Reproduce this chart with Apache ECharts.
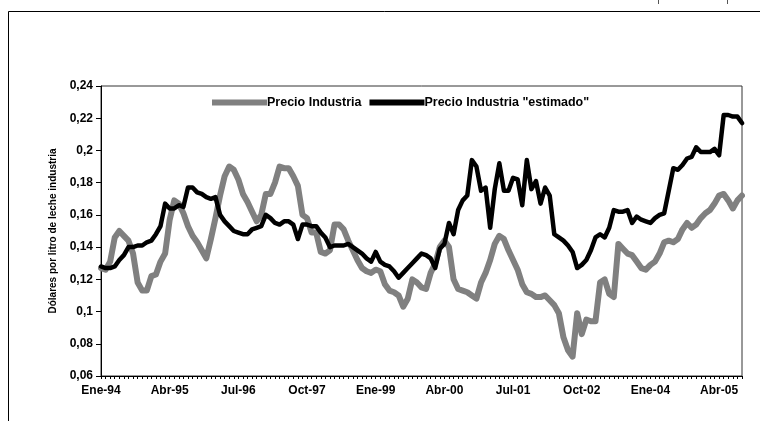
<!DOCTYPE html>
<html>
<head>
<meta charset="utf-8">
<title>Precio Industria</title>
<script src="https://cdn.jsdelivr.net/npm/echarts@6/dist/echarts.min.js"></script>
<style>
  html, body { margin: 0; padding: 0; background: #fff; }
  #main { width: 760px; height: 421px; }
</style>
</head>
<body>
<div id="main"></div>
<script>
// meses y años del eje x (Ene-94 ... Sep-05)
var meses = ['Ene','Feb','Mar','Abr','May','Jun','Jul','Ago','Sep','Oct','Nov','Dic'];
var anios = ['94','95','96','97','98','99','00','01','02','03','04','05'];

// Precio Industria (dólares por litro), mensual
var precioIndustria = [
  0.127,0.126,0.131,0.146,0.150,0.147,0.144,0.136,0.118,0.113,0.113,0.122,
  0.123,0.131,0.136,0.157,0.169,0.167,0.161,0.153,0.147,0.143,0.138,0.133,
  0.145,0.158,0.172,0.184,0.190,0.188,0.182,0.173,0.168,0.162,0.156,0.160,
  0.173,0.173,0.180,0.190,0.189,0.189,0.184,0.178,0.160,0.158,0.149,0.149,
  0.137,0.136,0.138,0.154,0.154,0.151,0.144,0.138,0.132,0.127,0.125,0.124,
  0.126,0.125,0.117,0.113,0.112,0.110,0.103,0.108,0.120,0.118,0.115,0.114,
  0.124,0.130,0.140,0.144,0.140,0.120,0.114,0.113,0.112,0.110,0.108,0.118,
  0.124,0.132,0.142,0.147,0.145,0.138,0.132,0.126,0.117,0.112,0.111,0.109,
  0.109,0.110,0.107,0.104,0.099,0.084,0.076,0.072,0.099,0.086,0.095,0.094,
  0.094,0.118,0.120,0.111,0.109,0.142,0.139,0.136,0.135,0.131,0.127,0.126,
  0.129,0.131,0.136,0.143,0.144,0.143,0.145,0.151,0.155,0.152,0.154,0.158,
  0.161,0.163,0.167,0.172,0.173,0.169,0.164,0.169,0.172
];

// Precio Industria "estimado"
var precioEstimado = [
  0.128,0.127,0.127,0.128,0.132,0.135,0.140,0.140,0.141,0.141,0.143,0.144,
  0.148,0.153,0.167,0.164,0.164,0.166,0.165,0.177,0.177,0.174,0.173,0.171,
  0.170,0.171,0.160,0.156,0.153,0.150,0.149,0.148,0.148,0.151,0.152,0.153,
  0.160,0.158,0.155,0.154,0.156,0.156,0.154,0.145,0.154,0.154,0.153,0.153,
  0.149,0.146,0.140,0.141,0.141,0.141,0.142,0.140,0.138,0.136,0.133,0.131,
  0.137,0.131,0.129,0.128,0.125,0.121,0.124,0.127,0.130,0.133,0.136,0.135,
  0.133,0.127,0.139,0.142,0.155,0.148,0.163,0.169,0.172,0.194,0.190,0.175,
  0.177,0.152,0.176,0.192,0.175,0.175,0.183,0.182,0.166,0.194,0.176,0.181,
  0.167,0.177,0.172,0.148,0.146,0.144,0.141,0.137,0.127,0.129,0.132,0.138,
  0.146,0.148,0.146,0.152,0.163,0.162,0.162,0.163,0.155,0.159,0.157,0.156,
  0.155,0.158,0.160,0.161,0.175,0.189,0.188,0.191,0.195,0.196,0.202,0.199,
  0.199,0.199,0.201,0.197,0.222,0.222,0.221,0.221,0.217
];

var categorias = [];
for (var i = 0; i < precioIndustria.length; i++) {
  categorias.push(meses[i % 12] + '-' + anios[Math.floor(i / 12)]);
}

var fuente = "'Liberation Sans', Arial, sans-serif";
var myChart = echarts.init(document.getElementById('main'));

var option = {
  animation: false,
  backgroundColor: '#fff',
  textStyle: { fontFamily: fuente },
  graphic: [
    // marco exterior
    { type: 'rect', silent: true, shape: { x: 8.5, y: 11.5, width: 800, height: 500 },
      style: { fill: 'none', stroke: '#000', lineWidth: 1 } },
    { type: 'line', silent: true, shape: { x1: 658.5, y1: 0, x2: 658.5, y2: 4 },
      style: { stroke: '#555', lineWidth: 1 } },
    { type: 'line', silent: true, shape: { x1: 727.5, y1: 0, x2: 727.5, y2: 4 },
      style: { stroke: '#555', lineWidth: 1 } }
  ],
  legend: {
    left: 207,
    top: 91,
    icon: 'rect',
    itemWidth: 55,
    itemHeight: 6,
    itemGap: 8,
    data: ['Precio Industria', 'Precio Industria "estimado"'],
    textStyle: { fontFamily: fuente, fontSize: 12.5, fontWeight: 'bold', color: '#000', padding: [0, 0, 0, -5] }
  },
  grid: {
    left: 101, right: 18, top: 86, bottom: 45,
    show: true, borderColor: '#333', borderWidth: 1
  },
  xAxis: {
    type: 'category',
    data: categorias,
    boundaryGap: false,
    axisLine: { lineStyle: { color: '#000', width: 1 } },
    axisTick: { show: true, interval: 0, length: 3, lineStyle: { color: '#000' } },
    axisLabel: {
      interval: 14, margin: 9, color: '#000',
      fontFamily: fuente, fontSize: 12, fontWeight: 'bold'
    },
    splitLine: { show: false }
  },
  yAxis: {
    type: 'value',
    min: 0.06, max: 0.24, interval: 0.02,
    name: 'Dólares por litro de leche industria',
    nameLocation: 'middle',
    nameGap: 41,
    nameTextStyle: { fontFamily: fuente, fontSize: 10, fontWeight: 'bold', color: '#000' },
    axisLine: { show: true, lineStyle: { color: '#000', width: 1 } },
    axisTick: { show: true, length: 5, lineStyle: { color: '#000' } },
    axisLabel: {
      margin: 8, color: '#000',
      fontFamily: fuente, fontSize: 12, fontWeight: 'bold',
      formatter: function (v) {
        return String(Math.round(v * 100) / 100).replace('.', ',');
      }
    },
    splitLine: { show: false }
  },
  series: [
    {
      name: 'Precio Industria',
      type: 'line',
      data: precioIndustria,
      showSymbol: false,
      color: '#808080',
      lineStyle: { color: '#808080', width: 6, join: 'round', cap: 'round' }
    },
    {
      name: 'Precio Industria "estimado"',
      type: 'line',
      data: precioEstimado,
      showSymbol: false,
      color: '#000',
      lineStyle: { color: '#000', width: 4.5, join: 'round', cap: 'round' }
    }
  ]
};

myChart.setOption(option);
</script>
</body>
</html>
